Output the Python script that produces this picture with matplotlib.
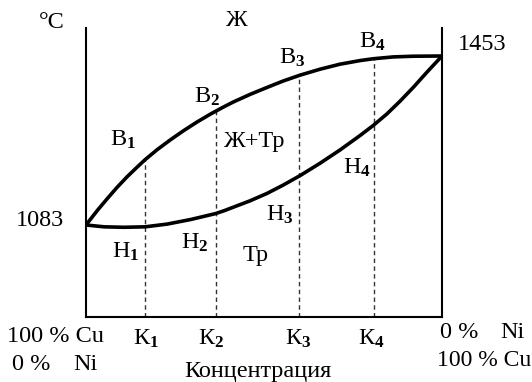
import numpy as np
import matplotlib
matplotlib.use("Agg")
import matplotlib.pyplot as plt

# Cu-Ni phase diagram: liquidus (upper) and solidus (lower) curves
conc_liq = [0, 3.2, 6.0, 8.8, 11.6, 14.4, 16.6, 20.0, 23.8, 27.5, 31.3, 35.0, 38.3,
            41.3, 46.1, 50.8, 55.3, 60.1, 65.7, 71.3, 77.0, 80.7, 86.3, 91.9, 100]
temp_liq = [1083, 1115, 1141, 1166, 1189, 1210, 1226, 1248, 1270, 1290, 1309, 1326, 1340,
            1352, 1369, 1384, 1398, 1411, 1424, 1435, 1443, 1447, 1451, 1452.5, 1453]

conc_sol = [0, 5.1, 10.7, 16.6, 22.8, 29.4, 36.4, 38.7, 46.1, 50.8, 55.3, 60.1, 65.7,
            71.3, 77.0, 80.7, 84.5, 88.2, 91.9, 95.7, 100]
temp_sol = [1083, 1079, 1078, 1079, 1085, 1095, 1108, 1114, 1136, 1152, 1170, 1191, 1218,
            1247, 1279, 1301, 1326, 1354, 1384, 1417, 1453]

# alloy compositions K1..K4
alloy_conc = [16.6, 36.5, 59.8, 80.9]
alloy_names = ["К", "К", "К", "К"]

t_cu = 1083
t_ni = 1453

plt.rcParams["font.family"] = ["Liberation Serif", "DejaVu Serif"]
plt.rcParams["mathtext.fontset"] = "custom"
plt.rcParams["mathtext.rm"] = "Liberation Serif"
plt.rcParams["mathtext.it"] = "Liberation Serif"
plt.rcParams["mathtext.bf"] = "Liberation Serif:bold"

W, H = 532, 382
fig = plt.figure(figsize=(W / 100, H / 100), dpi=100)

# axes frame in pixels
x0, x1 = 86, 442
y_top, y_bot = 28, 317
ax = fig.add_axes([x0 / W, 1 - y_bot / H, (x1 - x0) / W, (y_bot - y_top) / H])

# temperature scale: 1083 at y=225 px, 1453 at y=56 px
deg_per_px = (t_ni - t_cu) / (225 - 56)
ax.set_xlim(0, 100)
ax.set_ylim(t_cu - (y_bot - 225) * deg_per_px, t_ni + (56 - y_top) * deg_per_px)

for s in ["left", "right", "bottom"]:
    ax.spines[s].set_linewidth(1.5)
    ax.spines[s].set_color("black")
ax.spines["top"].set_visible(False)
ax.set_xticks([])
ax.set_yticks([])
ax.patch.set_alpha(0)

ax.plot(conc_liq, temp_liq, color="black", lw=2.6, solid_capstyle="round",
        solid_joinstyle="round", zorder=3)
ax.plot(conc_sol, temp_sol, color="black", lw=2.6, solid_capstyle="round",
        solid_joinstyle="round", zorder=3)

ybottom = ax.get_ylim()[0]
for c in alloy_conc:
    top = np.interp(c, conc_liq, temp_liq)
    ax.plot([c, c], [ybottom, top], color="#333333", lw=1.0, dashes=(3.2, 2.4), zorder=2)

FS = 17.5


def put(px, py, s, ha="center", va="center", size=FS):
    fig.text(px / W, 1 - py / H, s, ha=ha, va=va, fontsize=size)


def sub(letter, n):
    return letter + r"$_{\mathbf{" + str(n) + r"}}$"


put(52, 22, "°C")
put(237, 21, "Ж")
put(482, 45, "1453")
put(40, 221, "1083")

put(123, 140, sub("В", 1))
put(207, 97, sub("В", 2))
put(292, 58, sub("В", 3))
put(372, 42, sub("В", 4))

put(255, 142, "Ж+Тр")
put(256, 255, "Тр")

put(126, 252, sub("Н", 1))
put(195, 243, sub("Н", 2))
put(280, 215, sub("Н", 3))
put(357, 168, sub("Н", 4))

k_px = [146, 211, 298, 371]
for i, (kx, name) in enumerate(zip(k_px, alloy_names)):
    put(kx, 339, sub(name, i + 1))

put(7, 336, "100 % Cu", ha="left")
put(12, 364, "0 %", ha="left")
put(73, 364, "Ni", ha="left")
put(440, 332, "0 %", ha="left")
put(500, 332, "Ni", ha="left")
put(531, 360, "100 % Cu", ha="right", size=17)
put(258, 371, "Концентрация")

fig.savefig("out.png", dpi=100)
